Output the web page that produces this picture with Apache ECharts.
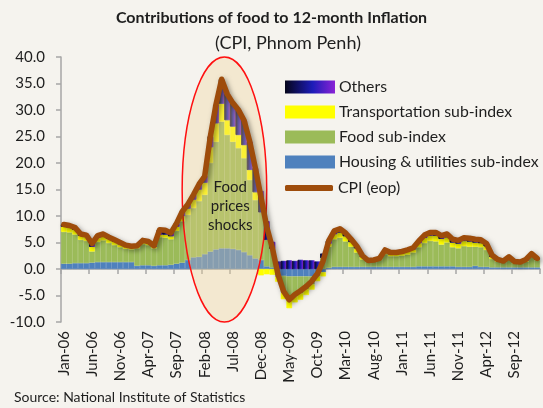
<!DOCTYPE html>
<html><head><meta charset="utf-8">
<script src="https://cdn.jsdelivr.net/npm/echarts@6/dist/echarts.min.js"></script>
<style>html,body{margin:0;padding:0;background:#f5f3ee}#c{width:543px;height:408px}</style>
</head><body><div id="c"></div><script>
var categories = ['Jan-06','Feb-06','Mar-06','Apr-06','May-06','Jun-06','Jul-06','Aug-06','Sep-06','Oct-06','Nov-06','Dec-06',
'Jan-07','Feb-07','Mar-07','Apr-07','May-07','Jun-07','Jul-07','Aug-07','Sep-07','Oct-07','Nov-07','Dec-07',
'Jan-08','Feb-08','Mar-08','Apr-08','May-08','Jun-08','Jul-08','Aug-08','Sep-08','Oct-08','Nov-08','Dec-08',
'Jan-09','Feb-09','Mar-09','Apr-09','May-09','Jun-09','Jul-09','Aug-09','Sep-09','Oct-09','Nov-09','Dec-09',
'Jan-10','Feb-10','Mar-10','Apr-10','May-10','Jun-10','Jul-10','Aug-10','Sep-10','Oct-10','Nov-10','Dec-10',
'Jan-11','Feb-11','Mar-11','Apr-11','May-11','Jun-11','Jul-11','Aug-11','Sep-11','Oct-11','Nov-11','Dec-11',
'Jan-12','Feb-12','Mar-12','Apr-12','May-12','Jun-12','Jul-12','Aug-12','Sep-12','Oct-12','Nov-12','Dec-12','Jan-13'];

var housing = [1.0,1.0,1.1,1.1,1.1,1.2,1.3,1.3,1.3,1.3,1.3,1.3,1.3,
0.6,0.7,0.7,0.6,0.7,0.7,0.8,
1.0,1.2,1.7,2.2,2.3,2.8,3.3,3.7,3.9,3.9,3.8,3.6,3.2,2.6,2.0,1.7,0.5,0.3,
-1.2,-1.3,-1.4,-1.4,-1.4,-1.4,-1.4,-1.2,-0.6,
0.2,0.4,0.4,0.4,0.4,0.4,0.4,0.4,0.4,0.4,0.4,0.4,0.4,0.4,0.4,0.4,0.5,0.5,0.5,0.5,0.5,0.5,0.5,0.4,0.4,0.4,0.6,0.4,0.4,0.3,0.3,0.3,0.3,0.3,0.3,0.3,0.3,0.3];

var food = [6.0,5.9,5.4,4.4,4.2,2.1,3.8,4.1,3.6,3.2,2.8,2.5,2.4,3.3,4.0,3.8,3.3,5.3,5.2,4.8,
6.2,7.8,8.5,9.3,10.5,11.2,16.7,20.3,23.9,21.4,20.2,19.2,17.7,14.2,11.0,9.0,5.0,3.5,
-0.3,-3.2,-4.6,-3.7,-3.2,-2.4,-1.5,-0.2,2.1,
4.0,5.2,5.5,4.8,3.8,2.7,1.4,1.0,1.1,1.3,2.4,2.0,2.0,2.1,2.3,2.7,3.6,4.4,4.8,4.7,4.1,4.5,3.6,3.5,3.9,3.8,3.6,3.7,3.2,1.6,1.1,0.9,1.6,0.8,0.7,1.1,2.0,1.4];

var transport = [1.0,0.9,0.9,0.8,0.8,0.9,0.8,0.8,0.8,0.7,0.6,0.5,0.4,0.3,0.4,0.4,0.3,0.5,0.6,0.6,
0.8,1.0,1.2,1.6,2.2,2.3,3.0,3.5,3.4,2.8,2.9,2.5,2.5,1.9,1.5,-1.2,-1.0,-1.1,
-0.9,-1.2,-1.4,-1.2,-1.2,-1.1,-1.0,-0.9,-0.8,
0.6,1.0,1.0,1.0,0.9,0.8,0.5,0.1,0.1,0.2,0.5,0.4,0.4,0.5,0.6,0.6,0.8,1.0,1.0,1.1,1.1,1.0,0.9,0.9,1.0,1.0,0.8,0.8,0.7,0.4,0.2,0.1,0.2,0.1,0.1,0.2,0.3,0.1];

var others = [0.4,0.4,0.4,0.3,0.3,0.6,0.4,0.4,0.3,0.3,0.3,0.2,0.2,0.2,0.3,0.3,0.2,0.9,0.8,0.6,
0.6,0.8,0.8,0.9,1.0,1.2,2.0,3.5,4.6,4.9,4.4,4.7,4.6,5.3,4.5,4.0,3.5,1.3,
1.4,1.5,1.6,1.5,1.7,1.6,1.6,1.4,0.8,
0.5,0.6,0.7,0.6,0.5,0.4,0.2,0.1,0.1,0.1,0.3,0.3,0.3,0.3,0.3,0.3,0.4,0.5,0.6,0.6,0.6,0.6,0.6,0.6,0.6,0.6,0.6,0.6,0.5,0.3,0.2,0.2,0.2,0.2,0.2,0.2,0.3,0.2];

var cpi = [8.4,8.2,7.8,6.6,6.4,4.8,6.3,6.6,6.0,5.5,5.0,4.5,4.3,4.4,5.4,5.2,4.4,7.4,7.3,6.8,
8.6,10.8,12.2,14.0,16.0,17.5,25.0,31.0,35.8,33.0,31.3,30.0,28.0,24.0,19.0,13.5,8.0,4.0,
-1.0,-4.2,-5.8,-4.8,-4.1,-3.3,-2.3,-0.9,1.5,5.3,7.2,7.6,6.8,5.6,4.3,2.5,1.6,1.7,2.0,3.6,3.1,3.1,3.3,3.6,4.0,5.3,6.4,6.9,6.9,6.3,6.6,5.6,5.4,5.9,5.8,5.6,5.5,4.8,2.6,1.8,1.5,2.3,1.4,1.3,1.8,2.9,2.0];

var seriesNames = ['Housing & utilities sub-index','Food sub-index','Transportation sub-index','Others','CPI (eop)'];
var yTicks = {min:-10, max:40, interval:5};
var annotation = ['Food','prices','shocks'];
var sourceText = 'Source: National Institute of Statistics';

var FONT = 'Lato, "Open Sans", sans-serif';
var TXT = '#1e1e1e';
var LINE_COLOR = '#9e4c0b';
var chart = echarts.init(document.getElementById('c'));
function othersGrad(){
  return new echarts.graphic.LinearGradient(0,0,1,0,[
    {offset:0,color:'#05051a'},{offset:0.55,color:'#1c1cb8'},{offset:1,color:'#8a22d6'}]);
}

function barSeries(name, data, color, border){
  return {type:'bar', name:name, data:data, stack:'total', xAxisIndex:0, yAxisIndex:0,
    barCategoryGap:'0%', itemStyle:{color:color, borderColor:border, borderWidth:0.6},
    emphasis:{disabled:true}, z:2};
}

var legendText = {fontFamily:FONT, fontSize:15.8, color:TXT, lineHeight:18};

chart.setOption({
  backgroundColor:'#f5f3ee',
  animation:false,
  textStyle:{fontFamily:FONT},
  title:[
    {text:'Contributions of food to 12-month Inflation', left:'center', top:5,
     textStyle:{fontFamily:FONT, fontWeight:'bold', fontSize:16, color:TXT}},
    {text:'(CPI, Phnom Penh)', left:283, top:29, textAlign:'center',
     textStyle:{fontFamily:FONT, fontWeight:'normal', fontSize:18, color:TXT}}
  ],
  grid:{left:61, right:3, top:57, bottom:86, containLabel:false},
  legend:[{
    orient:'vertical', left:280, top:73, itemWidth:48, itemHeight:11, itemGap:7,
    textStyle:legendText,
    data:[
      {name:seriesNames[3], icon:'rect'},
      {name:seriesNames[2], icon:'rect'},
      {name:seriesNames[1], icon:'rect'},
      {name:seriesNames[0], icon:'rect'}
    ],
    selectedMode:false
  },{
    orient:'vertical', left:280, top:174, itemWidth:48, itemHeight:6,
    textStyle:legendText,
    data:[{name:seriesNames[4], icon:'roundRect'}],
    selectedMode:false
  }],
  xAxis:[
    {type:'category', data:categories, boundaryGap:true, position:'bottom',
     axisLine:{show:true, onZero:true, lineStyle:{color:'#a6a6a6', width:1.5}},
     axisTick:{show:true, interval:4, length:5, lineStyle:{color:'#a6a6a6', width:1.5}},
     axisLabel:{show:false}, splitLine:{show:false}},
    {type:'category', data:categories, boundaryGap:true, position:'bottom',
     axisLine:{show:false, onZero:false}, axisTick:{show:false},
     axisLabel:{show:true, interval:4, rotate:90, margin:9, fontFamily:FONT, fontSize:15, color:TXT},
     splitLine:{show:false}}
  ],
  yAxis:{type:'value', min:yTicks.min, max:yTicks.max, interval:yTicks.interval,
    axisLine:{show:true, lineStyle:{color:'#a6a6a6', width:1.5}},
    axisTick:{show:true, length:5, lineStyle:{color:'#a6a6a6', width:1.5}},
    axisLabel:{fontFamily:FONT, fontSize:15, color:TXT, margin:16,
      formatter:function(v){return v.toFixed(1);}},
    splitLine:{show:false}},
  series:[
    barSeries(seriesNames[0], housing, '#4f81bd', '#4f81bd'),
    barSeries(seriesNames[1], food, '#9bbb59', '#9bbb59'),
    barSeries(seriesNames[2], transport, '#ffff00', '#ffff00'),
    barSeries(seriesNames[3], others, othersGrad(), othersGrad()),
    {type:'line', name:seriesNames[4], data:cpi, xAxisIndex:0, yAxisIndex:0,
     symbol:'none', smooth:false, z:10,
     lineStyle:{width:5.5, color:LINE_COLOR, cap:'round', join:'round',
       shadowBlur:5, shadowColor:'rgba(0,0,0,0.4)', shadowOffsetX:2, shadowOffsetY:2},
     itemStyle:{color:LINE_COLOR}, emphasis:{disabled:true}}
  ]
});

// annotation ellipse spanning Oct-07 .. Jan-09 and the full y range
var pL = chart.convertToPixel({xAxisIndex:0, yAxisIndex:0}, [21, yTicks.max]);
var pR = chart.convertToPixel({xAxisIndex:0, yAxisIndex:0}, [36, yTicks.min]);
var cx = (pL[0]+pR[0])/2, cy = (pL[1]+pR[1])/2;
var rx = (pR[0]-pL[0])/2, ry = (pR[1]-pL[1])/2;
var pT = chart.convertToPixel({xAxisIndex:0, yAxisIndex:0}, [29, 15]);

chart.setOption({
  graphic:[
    {type:'ellipse', shape:{cx:cx, cy:cy, rx:rx, ry:ry}, z:5, silent:true,
     style:{fill:'rgba(240,212,150,0.34)', stroke:'#ff1010', lineWidth:1.5}},
    {type:'text', x:pT[0]+3, y:pT[1]+17, z:11, silent:true,
     style:{text:annotation.join('\n'), fill:TXT, font:'15px '+FONT, align:'center', verticalAlign:'middle', lineHeight:19}},
    {type:'text', left:14, top:390, silent:true,
     style:{text:sourceText, fill:TXT, font:'14px '+FONT}}
  ]
});
</script></body></html>
